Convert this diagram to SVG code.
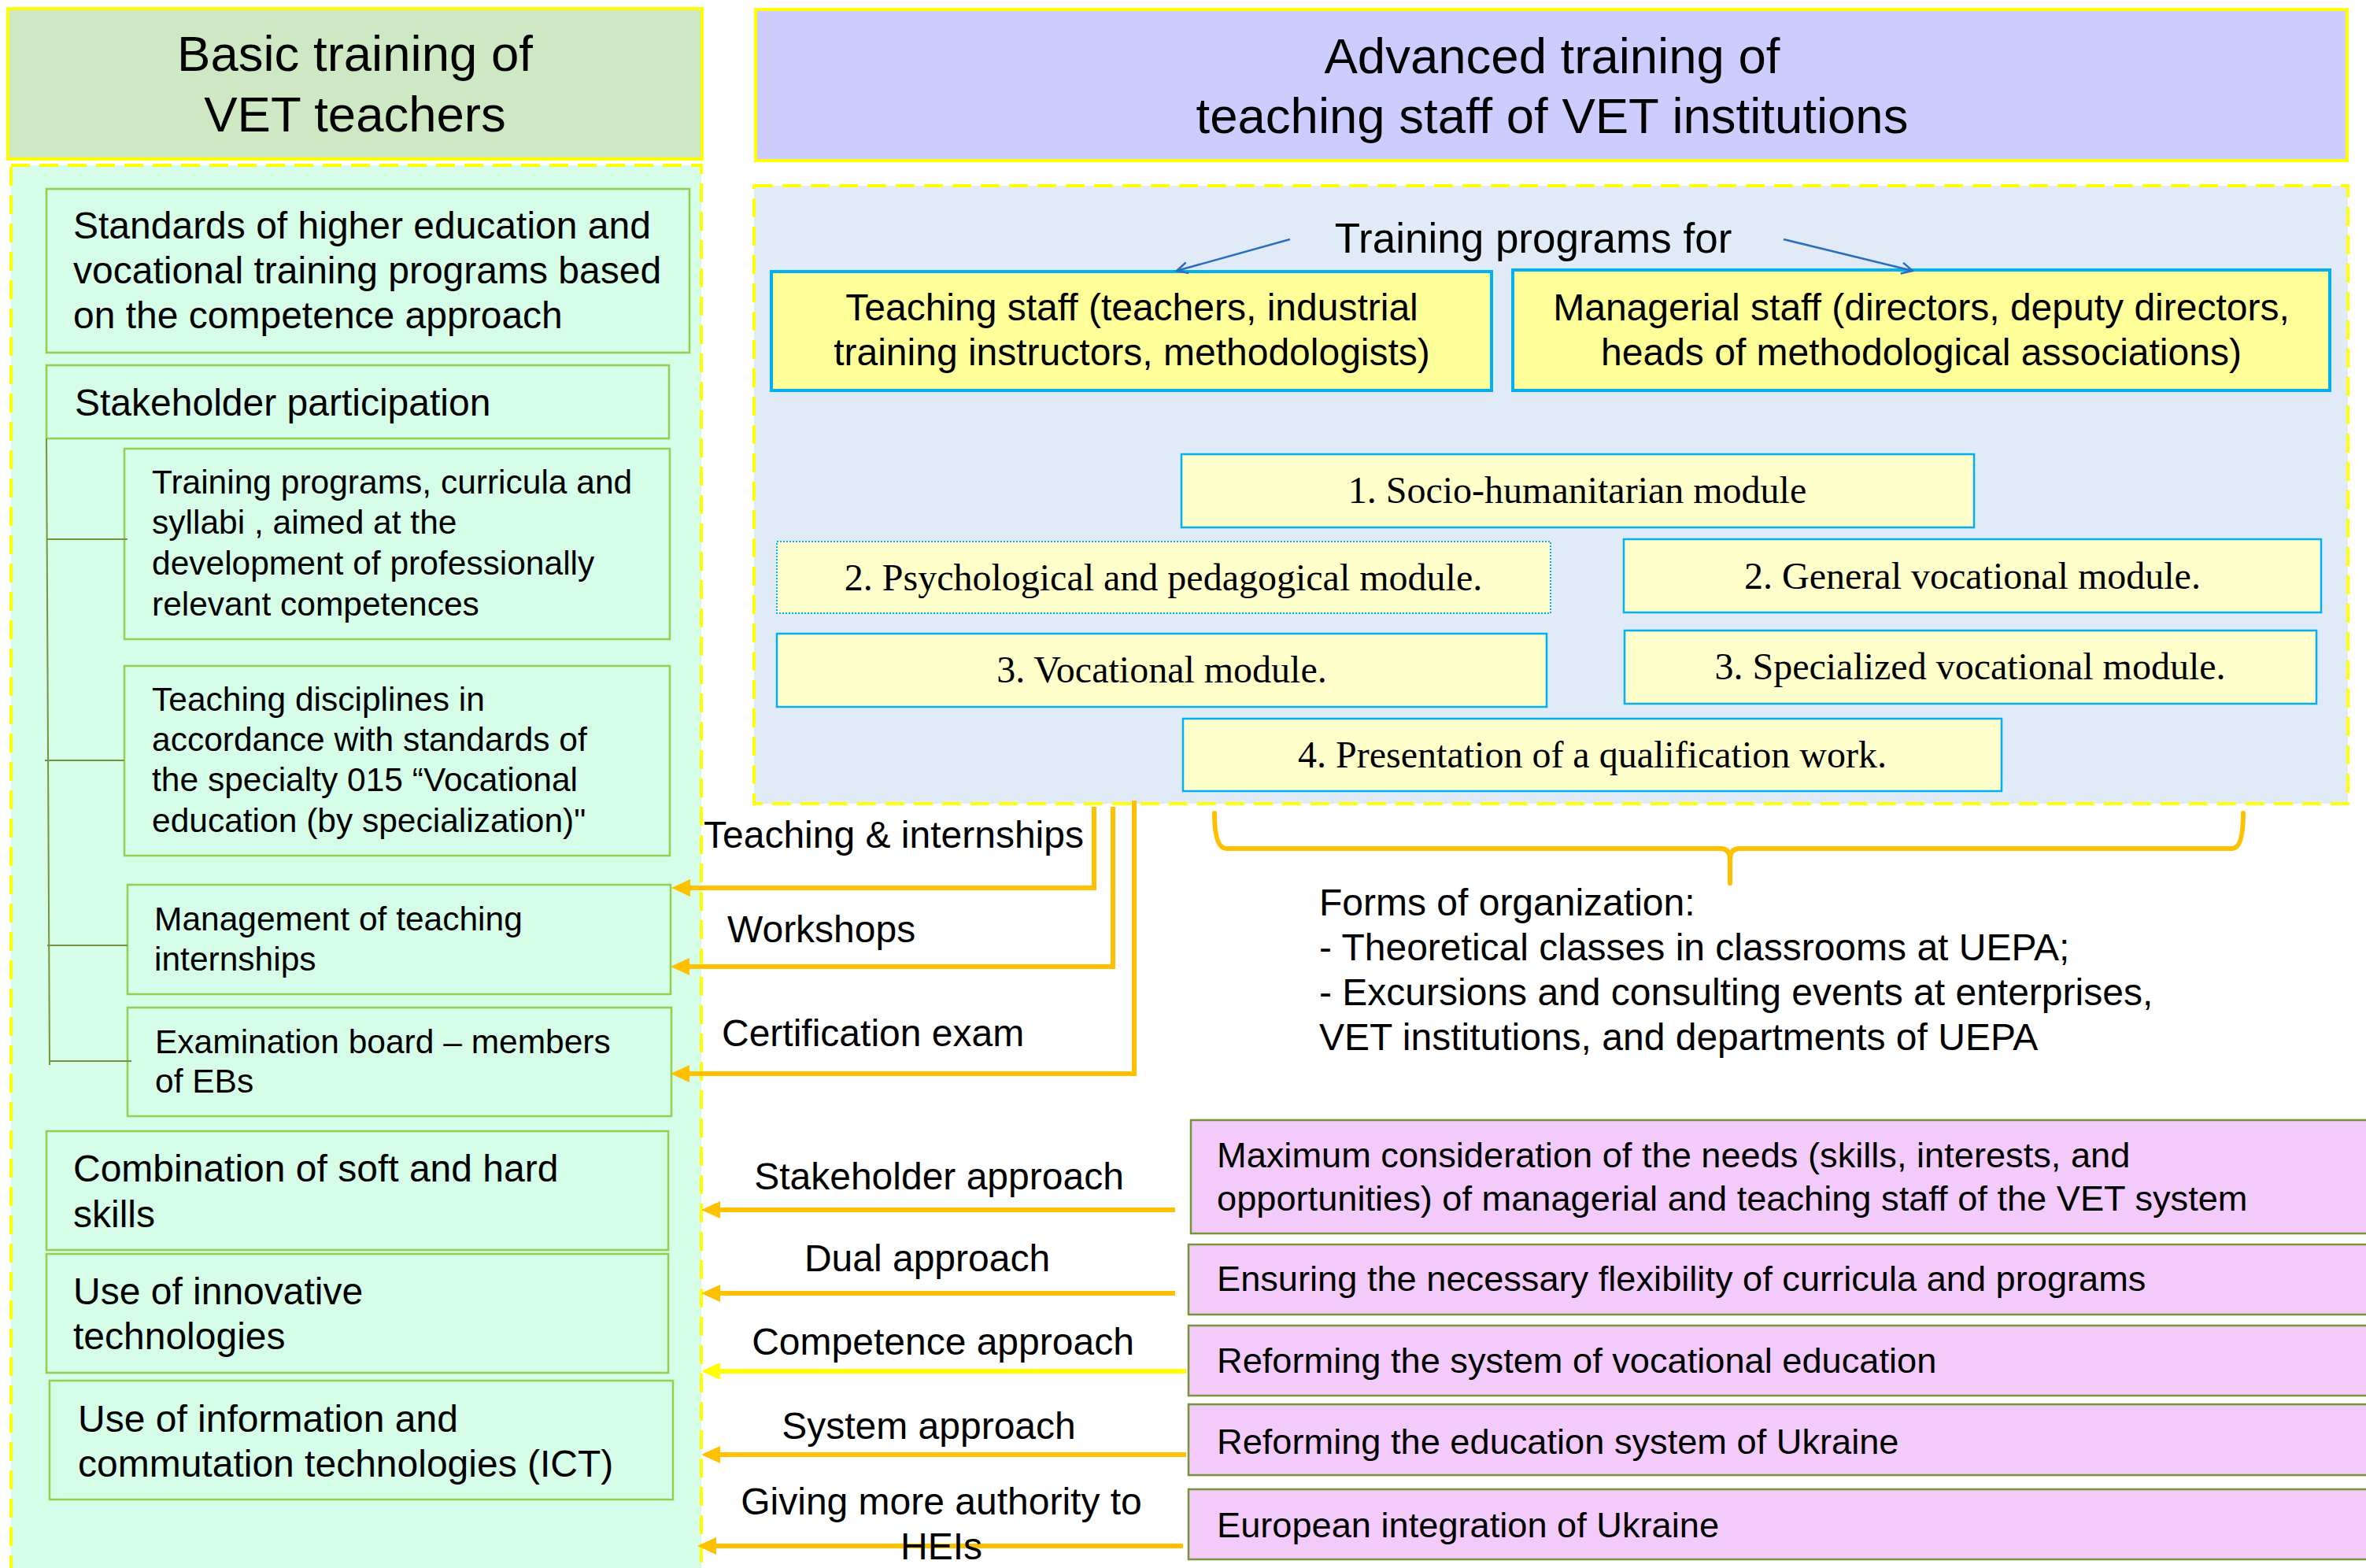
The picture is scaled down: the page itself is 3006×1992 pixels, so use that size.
<svg xmlns="http://www.w3.org/2000/svg" width="3006" height="1992" viewBox="0 0 3006 1992">
<style>
.sans{font-family:"Liberation Sans",Arial,sans-serif;fill:#000}
.serif{font-family:"Liberation Serif","Times New Roman",serif;fill:#000}
.hdr{font-size:63.5px;text-anchor:middle}
.gbox{fill:#D5FDE8;stroke:#92D050;stroke-width:2.5}
.t48{font-size:48px}
.t42{font-size:42.5px}
.t47{font-size:48px}
.tm{font-size:48px}
.t45{font-size:45.2px}
.mid{text-anchor:middle}
.staff{fill:#FFFF99;stroke:#00B0F0;stroke-width:4}
.mod{fill:#FFFFCC;stroke:#00B0F0;stroke-width:2.5}
.pink{fill:#F3CBFB;stroke:#77933C;stroke-width:2.5}
.tree{stroke:#77933C;stroke-width:2;fill:none}
.orange{stroke:#FFC000;stroke-width:6;fill:none;marker-end:url(#ah)}
.yel{stroke:#FFFF00;stroke-width:6;fill:none;marker-end:url(#ahy)}
.blue{stroke:#2A6EC0;stroke-width:2.5;fill:none;marker-end:url(#bh)}
</style>
<defs>
<marker id="ah" markerUnits="userSpaceOnUse" markerWidth="26" markerHeight="24" refX="4" refY="11" orient="auto"><path d="M0,0 L24,11 L0,22 z" fill="#FFC000"/></marker>
<marker id="ahy" markerUnits="userSpaceOnUse" markerWidth="26" markerHeight="24" refX="4" refY="11" orient="auto"><path d="M0,0 L24,11 L0,22 z" fill="#FFFF00"/></marker>
<marker id="bh" markerUnits="userSpaceOnUse" markerWidth="18" markerHeight="18" refX="15" refY="8" orient="auto"><path d="M1,1 L15,8 L1,15" fill="none" stroke="#2A6EC0" stroke-width="2.5"/></marker>
</defs>
<rect width="3006" height="1992" fill="#FFFFFF"/>

<g id="basic-header">
<rect x="10" y="11" width="882" height="191" fill="#CDE8C3" stroke="#FFFF00" stroke-width="4"/>
<text class="sans hdr" x="451" y="90">Basic training of</text>
<text class="sans hdr" x="451" y="167">VET teachers</text>
</g>

<g id="basic-container">
<rect x="14" y="210" width="877" height="1800" fill="#D5FDE8" stroke="#FFFF00" stroke-width="4" stroke-dasharray="24 12"/>
</g>

<g id="advanced-header">
<rect x="960" y="12" width="2022" height="192" fill="#CCCCFF" stroke="#FFFF00" stroke-width="4"/>
<text class="sans hdr" x="1972" y="93">Advanced training of</text>
<text class="sans hdr" x="1972" y="169">teaching staff of VET institutions</text>
</g>

<g id="advanced-container">
<rect x="958" y="236" width="2025" height="785" fill="#E1EBF7" stroke="#FFFF00" stroke-width="4" stroke-dasharray="24 12"/>
</g>

<g id="standards">
<rect class="gbox" x="59" y="240" width="817" height="208"/>
<text class="sans t48" x="93" y="303">Standards of higher education and</text>
<text class="sans t48" x="93" y="360">vocational training programs based</text>
<text class="sans t48" x="93" y="417">on the competence approach</text>
</g>

<g id="stakeholder-participation">
<rect class="gbox" x="59" y="464" width="791" height="93"/>
<text class="sans t48" x="95" y="528">Stakeholder participation</text>
</g>

<g id="training-programs">
<rect class="gbox" x="158" y="570" width="693" height="242"/>
<text class="sans t42" x="193" y="627">Training programs, curricula and</text>
<text class="sans t42" x="193" y="678">syllabi , aimed at the</text>
<text class="sans t42" x="193" y="730">development of professionally</text>
<text class="sans t42" x="193" y="782">relevant competences</text>
</g>

<g id="teaching-disciplines">
<rect class="gbox" x="158" y="846" width="693" height="241"/>
<text class="sans t42" x="193" y="903">Teaching disciplines in</text>
<text class="sans t42" x="193" y="954">accordance with standards of</text>
<text class="sans t42" x="193" y="1005">the specialty 015 “Vocational</text>
<text class="sans t42" x="193" y="1057">education (by specialization)"</text>
</g>

<g id="management">
<rect class="gbox" x="162" y="1124" width="690" height="139"/>
<text class="sans t42" x="196" y="1182">Management of teaching</text>
<text class="sans t42" x="196" y="1233">internships</text>
</g>

<g id="examination">
<rect class="gbox" x="162" y="1280" width="691" height="138"/>
<text class="sans t42" x="197" y="1338">Examination board – members</text>
<text class="sans t42" x="197" y="1388">of EBs</text>
</g>

<g id="combination">
<rect class="gbox" x="59" y="1437" width="790" height="151"/>
<text class="sans t48" x="93" y="1501">Combination of soft and hard</text>
<text class="sans t48" x="93" y="1559">skills</text>
</g>

<g id="innovative">
<rect class="gbox" x="59" y="1593" width="790" height="151"/>
<text class="sans t48" x="93" y="1657">Use of innovative</text>
<text class="sans t48" x="93" y="1714">technologies</text>
</g>

<g id="ict">
<rect class="gbox" x="63" y="1754" width="792" height="151"/>
<text class="sans t48" x="99" y="1819">Use of information and</text>
<text class="sans t48" x="99" y="1876">commutation technologies (ICT)</text>
</g>

<g id="training-programs-for">
<text class="sans mid" font-size="53" x="1948" y="321">Training programs for</text>
</g>

<g id="teaching-staff">
<rect class="staff" x="980" y="345" width="915" height="151"/>
<text class="sans t47 mid" x="1438" y="407">Teaching staff (teachers, industrial</text>
<text class="sans t47 mid" x="1438" y="464">training instructors, methodologists)</text>
</g>

<g id="managerial-staff">
<rect class="staff" x="1922" y="343" width="1038" height="153"/>
<text class="sans t47 mid" x="2441" y="407">Managerial staff (directors, deputy directors,</text>
<text class="sans t47 mid" x="2441" y="464">heads of methodological associations)</text>
</g>

<g id="module-1">
<rect class="mod" x="1501" y="577" width="1007" height="93"/>
<text class="serif tm mid" x="2004" y="639">1. Socio-humanitarian module</text>
</g>
<g id="module-2a">
<rect x="987" y="688" width="983" height="91" fill="#FFFFCC" stroke="#00B0F0" stroke-width="2" stroke-dasharray="2 2"/>
<text class="serif tm mid" x="1478" y="750">2. Psychological and pedagogical module.</text>
</g>
<g id="module-2b">
<rect class="mod" x="2063" y="685" width="886" height="93"/>
<text class="serif tm mid" x="2506" y="748">2. General vocational module.</text>
</g>
<g id="module-3a">
<rect class="mod" x="987" y="805" width="978" height="93"/>
<text class="serif tm mid" x="1476" y="867">3. Vocational module.</text>
</g>
<g id="module-3b">
<rect class="mod" x="2064" y="801" width="879" height="93"/>
<text class="serif tm mid" x="2503" y="863">3. Specialized vocational module.</text>
</g>
<g id="module-4">
<rect class="mod" x="1503" y="913" width="1040" height="92"/>
<text class="serif tm mid" x="2023" y="975">4. Presentation of a qualification work.</text>
</g>

<g id="forms-of-organization">
<text class="sans t48" x="1676" y="1163">Forms of organization:</text>
<text class="sans t48" x="1676" y="1220">- Theoretical classes in classrooms at UEPA;</text>
<text class="sans t48" x="1676" y="1277">- Excursions and consulting events at enterprises,</text>
<text class="sans t48" x="1676" y="1334">VET institutions, and departments of UEPA</text>
</g>

<g id="pink-1">
<rect class="pink" x="1513" y="1423" width="1500" height="144"/>
<text class="sans t45" x="1546" y="1483">Maximum consideration of the needs (skills, interests, and</text>
<text class="sans t45" x="1546" y="1538">opportunities) of managerial and teaching staff of the VET system</text>
</g>
<g id="pink-2">
<rect class="pink" x="1510" y="1581" width="1503" height="89"/>
<text class="sans t45" x="1546" y="1640">Ensuring the necessary flexibility of curricula and programs</text>
</g>
<g id="pink-3">
<rect class="pink" x="1510" y="1684" width="1503" height="89"/>
<text class="sans t45" x="1546" y="1744">Reforming the system of vocational education</text>
</g>
<g id="pink-4">
<rect class="pink" x="1510" y="1784" width="1503" height="90"/>
<text class="sans t45" x="1546" y="1847">Reforming the education system of Ukraine</text>
</g>
<g id="pink-5">
<rect class="pink" x="1510" y="1892" width="1503" height="89"/>
<text class="sans t45" x="1546" y="1953">European integration of Ukraine</text>
</g>

<g id="connectors">
<path class="tree" d="M59,557 L63,1353"/>
<path class="tree" d="M59,685 H162"/>
<path class="tree" d="M57,966 H158"/>
<path class="tree" d="M60,1201 H162"/>
<path class="tree" d="M63,1348 H167"/>

<path class="blue" d="M1639,304 L1495,344"/>
<path class="blue" d="M2266,304 L2430,344"/>

<path class="orange" d="M1390,1025 V1128 H873"/>
<path class="orange" d="M1414,1025 V1228 H872"/>
<path class="orange" d="M1441,1017 V1364 H872"/>

<path d="M1543,1033 Q1543,1078 1558,1078 L2186,1078 Q2198,1078 2198,1092 L2198,1122 M2198,1092 Q2198,1078 2210,1078 L2836,1078 Q2850,1078 2850,1033" stroke="#FFC000" stroke-width="6" fill="none" stroke-linecap="round"/>

<path class="orange" d="M1493,1537 H911"/>
<path class="orange" d="M1493,1643 H911"/>
<path class="yel" d="M1507,1742 H911"/>
<path class="orange" d="M1507,1848 H911"/>
<path class="orange" d="M1503,1964 H906"/>

<text class="sans t47" x="894" y="1077">Teaching &amp; internships</text>
<text class="sans t47" x="924" y="1197">Workshops</text>
<text class="sans t47" x="917" y="1329">Certification exam</text>

<text class="sans t48 mid" x="1193" y="1511">Stakeholder approach</text>
<text class="sans t48 mid" x="1178" y="1615">Dual approach</text>
<text class="sans t48 mid" x="1198" y="1721">Competence approach</text>
<text class="sans t48 mid" x="1180" y="1828">System approach</text>
<text class="sans t48 mid" x="1196" y="1924">Giving more authority to</text>
<text class="sans t48 mid" x="1196" y="1981">HEIs</text>
</g>
</svg>
